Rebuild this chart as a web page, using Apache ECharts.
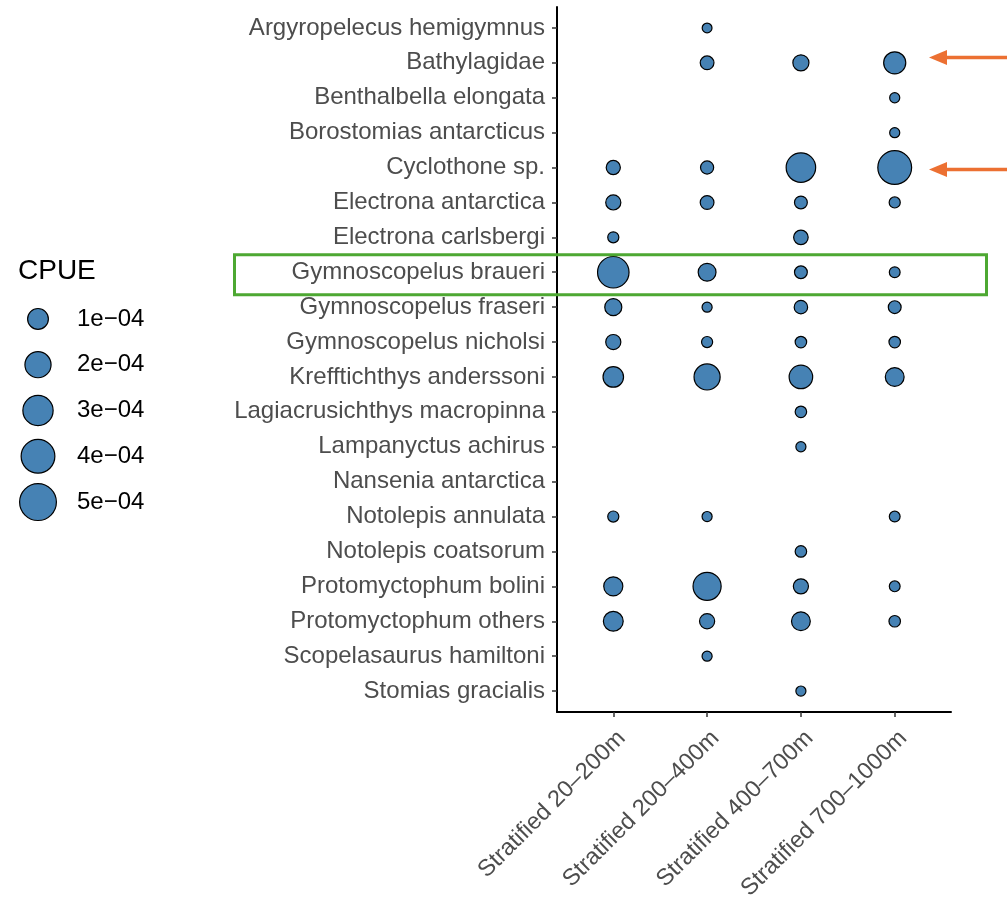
<!DOCTYPE html>
<html>
<head>
<meta charset="utf-8">
<script src="https://cdn.jsdelivr.net/npm/echarts@6/dist/echarts.min.js"></script>
<style>
html,body{margin:0;padding:0;background:#fff;}
#c{width:1007px;height:899px;}
</style>
</head>
<body>
<div id="c"></div>
<script>
// Categories
var species = [
  'Argyropelecus hemigymnus','Bathylagidae','Benthalbella elongata','Borostomias antarcticus',
  'Cyclothone sp.','Electrona antarctica','Electrona carlsbergi','Gymnoscopelus braueri',
  'Gymnoscopelus fraseri','Gymnoscopelus nicholsi','Krefftichthys anderssoni',
  'Lagiacrusichthys macropinna','Lampanyctus achirus','Nansenia antarctica',
  'Notolepis annulata','Notolepis coatsorum','Protomyctophum bolini','Protomyctophum others',
  'Scopelasaurus hamiltoni','Stomias gracialis'
];
var strata = ['Stratified 20\u2013200m','Stratified 200\u2013400m','Stratified 400\u2013700m','Stratified 700\u20131000m'];

// CPUE per species, one value per stratum (null = not caught)
var cpue20_200   = [null,null,null,null,2.4e-5,3.2e-5,6.5e-6,3.34e-4,5.1e-5,3.2e-5,9.6e-5,null,null,null,6.5e-6,null,7.6e-5,8.6e-5,null,null];
var cpue200_400  = [2.4e-6,2.1e-5,null,null,1.7e-5,2.1e-5,null,6.0e-5,3.1e-6,6.5e-6,1.99e-4,null,null,null,3.1e-6,null,2.45e-4,3.2e-5,3.1e-6,null];
var cpue400_700  = [null,4.1e-5,null,null,2.8e-4,1.5e-5,2.7e-5,1.5e-5,1.9e-5,8.1e-6,1.47e-4,8.1e-6,3.1e-6,null,null,8.1e-6,3.2e-5,7.2e-5,null,3.1e-6];
var cpue700_1000 = [null,1.22e-4,3.1e-6,3.1e-6,4.02e-4,6.5e-6,null,5.4e-6,1.5e-5,8.1e-6,7.2e-5,null,null,null,5.4e-6,null,5.4e-6,8.1e-6,null,null];
var cpueByStratum = [cpue20_200, cpue200_400, cpue400_700, cpue700_1000];

// Size legend
var legendValues = [1e-4, 2e-4, 3e-4, 4e-4, 5e-4];
var legendLabels = ['1e\u221204','2e\u221204','3e\u221204','4e\u221204','5e\u221204'];

var FONT = '"Liberation Sans", Arial, Helvetica, sans-serif';
var BW = 1.2;
function diam(v){ return 9 + 29*Math.sqrt(v/5e-4) - BW; }

var points = [];
cpueByStratum.forEach(function(arr, j){
  arr.forEach(function(v, i){ if (v !== null) points.push([j, i, v]); });
});
var legendPts = legendValues.map(function(v, i){ return [0, i, v]; });

var chart = echarts.init(document.getElementById('c'));
var idx = species.map(function(_, i){ return i; });
var option = {
  animation: false,
  backgroundColor: '#fff',
  title: { text: 'CPUE', left: 13, top: 252, textStyle: { fontFamily: FONT, fontSize: 28, fontWeight: 'normal', color: '#000' } },
  grid: [
    { left: 557, right: 56, top: 7, bottom: 187, outerBoundsMode: 'none', containLabel: false },
    { left: 37, width: 2, top: 296, height: 229, outerBoundsMode: 'none', containLabel: false }
  ],
  xAxis: [
    { type: 'value', gridIndex: 0, min: -0.6, max: 3.6,
      splitLine: { show: false },
      axisLine: { show: true, onZero: false, lineStyle: { color: '#000', width: 2 } },
      axisTick: { show: true, customValues: [0,1,2,3], length: 5, lineStyle: { color: '#333', width: 1.5 } },
      axisLabel: { customValues: [0,1,2,3], formatter: function(v){ return strata[Math.round(v)]; },
        rotate: 45, align: 'right', verticalAlign: 'top', fontSize: 23.5, color: '#4d4d4d', fontFamily: FONT, margin: 14 } },
    { type: 'value', gridIndex: 1, min: -1, max: 1, show: false }
  ],
  yAxis: [
    { type: 'value', gridIndex: 0, inverse: true, min: -0.6, max: 19.6,
      splitLine: { show: false },
      axisLine: { show: true, onZero: false, lineStyle: { color: '#000', width: 2 } },
      axisTick: { show: true, customValues: idx, length: 5, lineStyle: { color: '#333', width: 1.5 } },
      axisLabel: { customValues: idx, formatter: function(v){ return species[Math.round(v)]; },
        fontSize: 24, color: '#4d4d4d', fontFamily: FONT, margin: 12 } },
    { type: 'category', gridIndex: 1, data: legendLabels, inverse: true, position: 'right',
      axisLine: { show: false }, axisTick: { show: false }, splitLine: { show: false },
      axisLabel: { margin: 38, fontSize: 24, color: '#000', fontFamily: FONT } }
  ],
  series: [
    { type: 'scatter', xAxisIndex: 0, yAxisIndex: 0, data: points,
      symbolSize: function(d){ return diam(d[2]); },
      itemStyle: { color: '#4682b4', borderColor: '#000', borderWidth: BW, opacity: 1 } },
    { type: 'scatter', xAxisIndex: 1, yAxisIndex: 1, data: legendPts,
      symbolSize: function(d){ return diam(d[2]); },
      itemStyle: { color: '#4682b4', borderColor: '#000', borderWidth: BW, opacity: 1 } }
  ]
};
chart.setOption(option);

var yB = chart.convertToPixel({ yAxisIndex: 0 }, species.indexOf('Gymnoscopelus braueri'));
function arrow(y){
  return [
    { type: 'line', shape: { x1: 1010, y1: y, x2: 944, y2: y }, style: { stroke: '#ec7032', lineWidth: 3.5 } },
    { type: 'polygon', shape: { points: [[929, y], [947, y-7.5], [947, y+7.5]] }, style: { fill: '#ec7032' } }
  ];
}
chart.setOption({
  graphic: [
    { type: 'rect', shape: { x: 234.5, y: yB - 17.5, width: 752, height: 40 },
      style: { fill: 'none', stroke: '#4da832', lineWidth: 3 }, z: 10 }
  ].concat(arrow(57.5), arrow(169.5))
});
</script>
</body>
</html>
